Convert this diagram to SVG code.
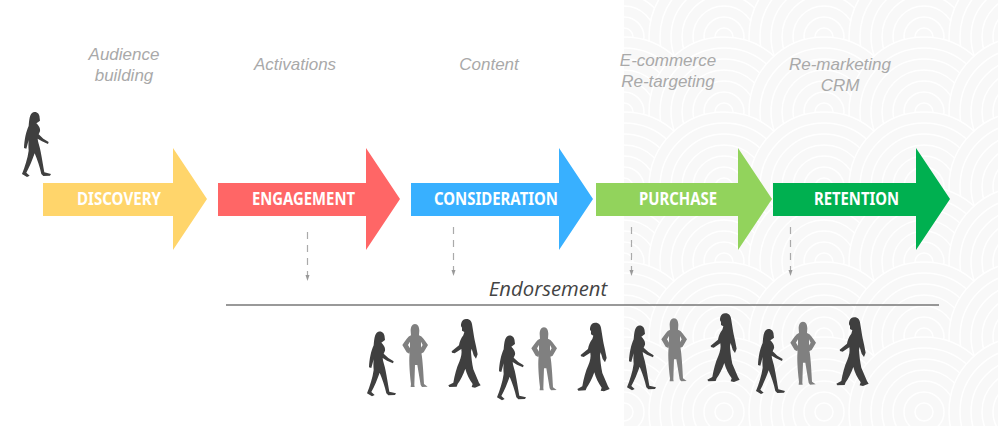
<svg xmlns="http://www.w3.org/2000/svg" width="1000" height="426" viewBox="0 0 1000 426">
<style>
.lbl{font:italic 17px "Liberation Sans",Arial,sans-serif;fill:#a9a9a9;text-anchor:middle}
.arw{font:bold 17px "Noto Sans","Open Sans",sans-serif;fill:#fff;text-anchor:middle}
.end{font:italic 20.300px "Open Sans","Noto Sans",sans-serif;fill:#444;text-anchor:middle}
.ring{fill:#f8f8f8;stroke:#fff;stroke-width:1.500}
.dash{fill:none;stroke:#aaa;stroke-width:1.200;stroke-dasharray:7 6}
.tip{fill:#999}
.dk{fill:#3f3f3f}
.md{fill:#808080}
</style>
<defs>
<clipPath id="bgclip"><rect x="624" y="0" width="374" height="426"/></clipPath>
<g id="scallop" class="ring"><circle r="75"/><circle r="64"/><circle r="53"/><circle r="42"/><circle r="31"/><circle r="20"/><circle r="9"/></g>
<g id="row"><use href="#scallop" x="624"/><use href="#scallop" x="724"/><use href="#scallop" x="824"/><use href="#scallop" x="924"/><use href="#scallop" x="1024"/></g>
<path id="wa" transform="scale(.3333)" d="M100 67C110 64 119 71 119 84L120 92L115 96L109 100C116 106 122 116 120 124L116 133L130 146L146 156L144 162L126 154L113 146C113 155 120 170 122 185C126 205 130 230 133 247L153 252L150 257L130 258L124 252C120 232 112 210 104 190C97 210 88 232 79 248L89 257L81 261L66 252C74 232 83 205 86 182C85 170 85 160 86 150L79 176L72 174C73 150 78 125 86 108C88 90 88 72 100 67Z"/>
<path id="wb" transform="scale(.3333)" d="M318 27C329 26 336 34 337 48C340 66 342 80 344 90L348 108L353 133L348 146L341 136L335 116L333 125C334 140 336 160 340 178L357 218L362 226L345 233L335 231L338 222C328 208 320 192 316 176C310 195 300 212 293 222L290 230L268 231L265 226L280 218C284 195 290 172 298 155C304 140 306 130 304 117L284 130L276 128L275 124L297 106C299 95 303 85 310 76L313 66L306 62L306 53L303 48C303 36 308 27 318 27Z"/>
<path id="st" transform="scale(.3333)" d="M165 42C174 42 178 52 178 62L177 76C188 80 193 90 204 105L191 127L183 131L180 118L188 105L183 95L183 125C187 135 190 180 192 222L203 230L186 231L182 225L172 165L165 165L163 225L164 231L152 231L153 222C148 180 146 140 150 125L150 95L144 105L152 118L148 131L140 127L127 105C138 90 143 80 153 76L152 62C152 52 156 42 165 42Z"/>
</defs>
<rect width="1000" height="426" fill="#fff"/>
<g id="background" clip-path="url(#bgclip)">
<rect x="624" width="374" height="426" fill="#f8f8f8"/>
<use href="#row" y="-38"/><use href="#row" y="37"/><use href="#row" y="112"/><use href="#row" y="187"/><use href="#row" y="262"/><use href="#row" y="337"/><use href="#row" y="412"/>
</g>
<g id="connectors">
<path class="dash" d="M307.500 232V276"/><path class="tip" d="M305.500 275h4l-2 6z"/>
<path class="dash" d="M453.500 227V271"/><path class="tip" d="M451.500 270h4l-2 6z"/>
<path class="dash" d="M631.500 227V271"/><path class="tip" d="M629.500 270h4l-2 6z"/>
<path class="dash" d="M790.500 227V271"/><path class="tip" d="M788.500 270h4l-2 6z"/>
<path d="M226 305H939" stroke="#777" stroke-width="1.300" fill="none"/>
</g>
<g id="audience"><text class="lbl" x="124" y="60">Audience</text><text class="lbl" x="124" y="81">building</text></g>
<g id="activations"><text class="lbl" x="295" y="70">Activations</text></g>
<g id="content"><text class="lbl" x="489" y="70">Content</text></g>
<g id="ecommerce"><text class="lbl" x="668" y="66">E-commerce</text><text class="lbl" x="668" y="87">Re-targeting</text></g>
<g id="remarketing"><text class="lbl" x="840" y="70">Re-marketing</text><text class="lbl" x="840" y="91">CRM</text></g>
<g id="discovery"><path fill="#ffd56b" d="M43 183H173V148L207 199L173 250V216H43Z"/><text class="arw" x="119" y="205" textLength="84" lengthAdjust="spacingAndGlyphs">DISCOVERY</text></g>
<g id="engagement"><path fill="#ff6666" d="M218 183H366V148L400 199L366 250V216H218Z"/><text class="arw" x="303.500" y="205" textLength="103" lengthAdjust="spacingAndGlyphs">ENGAGEMENT</text></g>
<g id="consideration"><path fill="#38b0ff" d="M411 183H559V148L593 199L559 250V216H411Z"/><text class="arw" x="496" y="205" textLength="124" lengthAdjust="spacingAndGlyphs">CONSIDERATION</text></g>
<g id="purchase"><path fill="#92d35c" d="M596 183H738V148L772 199L738 250V216H596Z"/><text class="arw" x="678" y="205" textLength="78" lengthAdjust="spacingAndGlyphs">PURCHASE</text></g>
<g id="retention"><path fill="#00b050" d="M773 183H916V148L950 199L916 250V216H773Z"/><text class="arw" x="856.500" y="205" textLength="85" lengthAdjust="spacingAndGlyphs">RETENTION</text></g>
<g id="endorsement"><text class="end" x="548" y="296">Endorsement</text></g>
<g id="walker"><use href="#wa" class="dk" x="0" y="90"/></g>
<g id="crowd">
<use href="#wa" class="dk" x="345" y="309.300"/>
<use href="#st" class="md" x="360" y="310"/>
<use href="#wb" class="dk" x="360" y="310"/>
<use href="#wa" class="dk" x="475" y="313.300"/>
<use href="#st" class="md" x="489" y="313.300"/>
<use href="#wb" class="dk" x="489" y="313.700"/>
<use href="#wa" class="dk" x="605" y="303.300"/>
<use href="#st" class="md" x="619" y="304.300"/>
<use href="#wb" class="dk" x="619" y="304.300"/>
<use href="#wa" class="dk" x="734" y="307"/>
<use href="#st" class="md" x="748" y="307.700"/>
<use href="#wb" class="dk" x="748" y="308.300"/>
</g>
</svg>
